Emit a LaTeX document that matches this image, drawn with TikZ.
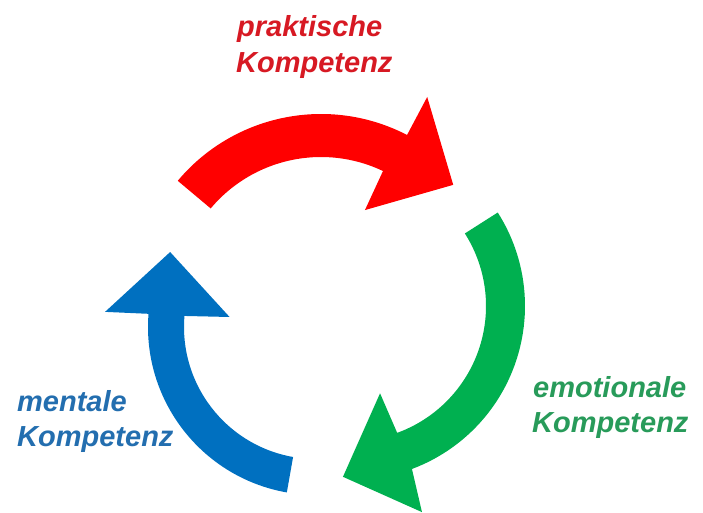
\documentclass[tikz,border=0pt]{standalone}
\usepackage{fontspec}
\setmainfont{Liberation Sans}
\definecolor{redA}{RGB}{255,0,0}
\definecolor{greenA}{RGB}{0,176,80}
\definecolor{blueA}{RGB}{0,112,192}
\definecolor{redT}{RGB}{215,25,35}
\definecolor{greenT}{RGB}{40,155,90}
\definecolor{blueT}{RGB}{35,110,175}
\tikzset{
  lbl/.style={anchor=base west, inner sep=0pt, font=\fontsize{29}{35}\selectfont\bfseries\itshape},
}
\begin{document}
\begin{tikzpicture}[x=1pt,y=1pt]
\useasboundingbox (0,0) rectangle (703,513);
% red arrow
\begin{scope}[shift={(321,212)}]
\fill[redA] (140:187) arc[start angle=140, end angle=62.6, radius=187]
  -- (62.5:230) -- (41.3:176) -- (64.2:101) -- (64.5:144)
  arc[start angle=64.5, end angle=140, radius=144] -- cycle;
\end{scope}
% green arrow
\begin{scope}[shift={(351,207)}]
\fill[greenA] (32.5:174) arc[start angle=32.5, end angle=-69.5, radius=174]
  -- (-71:218) -- (-92.7:171) -- (-71.6:92) -- (-70:135)
  arc[start angle=-70, end angle=32.5, radius=135] -- cycle;
\end{scope}
% blue arrow
\begin{scope}[shift={(316,186)}]
\fill[blueA] (-100:168) arc[start angle=-100, end angle=-184.5, radius=168]
  -- (-184.1:211.5) -- (-207.2:164) -- (-186.6:87) -- (-184.8:132)
  arc[start angle=-184.8, end angle=-100, radius=132] -- cycle;
\end{scope}
% labels
\node[lbl, text=redT] (r1) at (237,476) {praktische};
\node[lbl, text=redT] (r2) at (236,440) {Kompetenz};
\node[lbl, text=greenT] (g1) at (533,115) {emotionale};
\node[lbl, text=greenT] (g2) at (532,80) {Kompetenz};
\node[lbl, text=blueT] (b1) at (17,101) {mentale};
\node[lbl, text=blueT] (b2) at (17,66) {Kompetenz};
\end{tikzpicture}
\end{document}
